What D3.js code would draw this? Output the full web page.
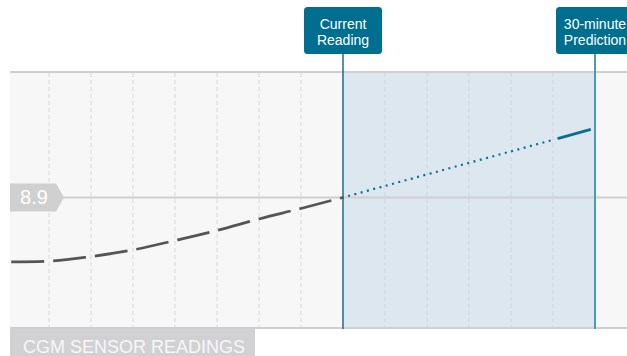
<!DOCTYPE html>
<html>
<head>
<meta charset="utf-8">
<script src="https://cdn.jsdelivr.net/npm/d3@7"></script>
<style>
  html, body { margin: 0; padding: 0; background: #ffffff; }
  svg { display: block; font-family: "Liberation Sans", Arial, Helvetica, sans-serif; }
</style>
</head>
<body>
<svg id="chart" width="627" height="356"></svg>
<script>
// ---- data ----
const historyTimes  = [-39.5, -35, -30, -25, -20, -15, -10, -5, 0];   // minutes
const historyValues = [6.38, 6.41, 6.59, 6.85, 7.22, 7.61, 8.06, 8.47, 8.9]; // mmol/L
const predTimes  = [0, 25, 30];
const predValues = [8.9, 11.15, 11.6];
const gridTimes = [-35, -30, -25, -20, -15, -10, -5, 5, 10, 15, 20, 25];
const currentValue = 8.9;
const currentTime = 0;
const predictionTime = 30;
const currentLabel = ["Current", "Reading"];
const predictionLabel = ["30-minute", "Prediction"];
const chartTitle = "CGM SENSOR READINGS";

// ---- layout ----
const W = 627, H = 356;
const plotLeft = 10, plotTop = 72, plotBottom = 328;
const svg = d3.select("#chart");

const x = d3.scaleLinear().domain([-40, 35]).range([7, 637]);
const y = d3.scaleLinear().domain([3.8, 13.8]).range([plotBottom, plotTop]);

// background of plot
svg.append("rect")
  .attr("x", plotLeft).attr("y", plotTop)
  .attr("width", W - plotLeft).attr("height", plotBottom - plotTop)
  .attr("fill", "#f7f7f7");

// shaded prediction window
svg.append("rect")
  .attr("x", x(currentTime)).attr("y", plotTop)
  .attr("width", x(predictionTime) - x(currentTime)).attr("height", plotBottom - plotTop)
  .attr("fill", "#dde7ef");

// vertical dashed grid
svg.append("g").selectAll("line").data(gridTimes).join("line")
  .attr("x1", d => x(d)).attr("x2", d => x(d))
  .attr("y1", plotTop + 1).attr("y2", plotBottom - 1)
  .attr("stroke", d => d > 0 ? "#cdd6de" : "#d9d9d9")
  .attr("stroke-width", 1)
  .attr("stroke-dasharray", "4,3");

// top and bottom borders
[plotTop, plotBottom].forEach(yy => {
  svg.append("line")
    .attr("x1", plotLeft).attr("x2", W)
    .attr("y1", yy).attr("y2", yy)
    .attr("stroke", "#cfcfcf").attr("stroke-width", 2);
});

// reference line at current value
const yRef = y(currentValue);
svg.append("line")
  .attr("x1", 60).attr("x2", W)
  .attr("y1", yRef).attr("y2", yRef)
  .attr("stroke", "#cfcfcf").attr("stroke-width", 2);

// value badge
svg.append("path")
  .attr("d", `M${plotLeft},${yRef - 14} H56 L64,${yRef} L56,${yRef + 14} H${plotLeft} Z`)
  .attr("fill", "#d0d0d0");
svg.append("text")
  .attr("x", 34).attr("y", yRef + 7)
  .attr("text-anchor", "middle")
  .attr("font-size", 20).attr("fill", "#ffffff")
  .text(currentValue.toFixed(1));

// vertical marker lines
svg.append("line")
  .attr("x1", x(currentTime)).attr("x2", x(currentTime))
  .attr("y1", 54).attr("y2", plotBottom + 1)
  .attr("stroke", "#1b6e8e").attr("stroke-width", 1.5);
svg.append("line")
  .attr("x1", x(predictionTime)).attr("x2", x(predictionTime))
  .attr("y1", 54).attr("y2", plotBottom + 1)
  .attr("stroke", "#4f9ab6").attr("stroke-width", 2);

// history line
const histData = historyTimes.map((t, i) => [t, historyValues[i]]);
const lineGen = d3.line().x(d => x(d[0])).y(d => y(d[1])).curve(d3.curveMonotoneX);
svg.append("path")
  .datum(histData)
  .attr("d", lineGen)
  .attr("fill", "none")
  .attr("stroke", "#555555")
  .attr("stroke-width", 2.7)
  .attr("stroke-dasharray", "33,9");

// prediction: dotted then solid
const predData = predTimes.map((t, i) => [t, predValues[i]]);
const straight = d3.line().x(d => x(d[0])).y(d => y(d[1]));
svg.append("path")
  .datum(predData.slice(0, 2))
  .attr("d", straight)
  .attr("fill", "none")
  .attr("stroke", "#0a6f91")
  .attr("stroke-width", 2.2)
  .attr("stroke-dasharray", "2,4.5")
  .attr("stroke-dashoffset", 1.2);
svg.append("path")
  .datum(predData.slice(1, 3))
  .attr("d", straight)
  .attr("fill", "none")
  .attr("stroke", "#0a6f91")
  .attr("stroke-width", 2.8)
  .attr("stroke-dasharray", "0,4.7,34.5,40");

// callout boxes
function callout(cx, lines) {
  const g = svg.append("g");
  g.append("rect")
    .attr("x", cx - 39).attr("y", 7)
    .attr("width", 78).attr("height", 47)
    .attr("rx", 3.5)
    .attr("fill", "#006e8f");
  g.selectAll("text").data(lines).join("text")
    .attr("x", cx).attr("y", (d, i) => 28.5 + i * 16)
    .attr("text-anchor", "middle")
    .attr("font-size", 14).attr("fill", "#ffffff")
    .text(d => d);
}
callout(x(currentTime), currentLabel);
callout(x(predictionTime), predictionLabel);

// title badge
svg.append("rect")
  .attr("x", plotLeft).attr("y", plotBottom + 1)
  .attr("width", 245).attr("height", H - plotBottom)
  .attr("fill", "#d1d1d3");
svg.append("text")
  .attr("x", 23).attr("y", 352.5)
  .attr("font-size", 18).attr("fill", "#f7f7f7")
  .text(chartTitle);
</script>
</body>
</html>
